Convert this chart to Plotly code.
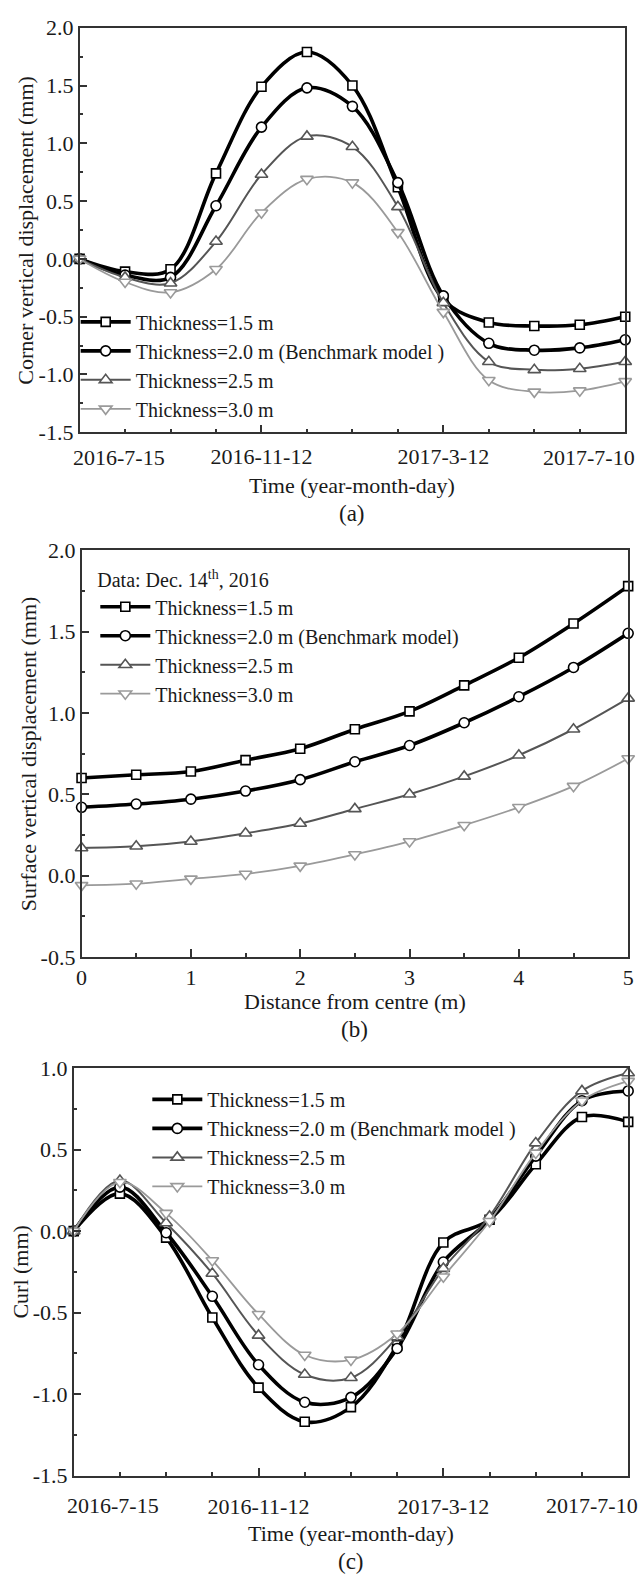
import plotly.graph_objects as go

# ---------------- data ----------------
dates = ["2016-07-15", "2016-08-14", "2016-09-13", "2016-10-13", "2016-11-12",
         "2016-12-12", "2017-01-11", "2017-02-10", "2017-03-12", "2017-04-11",
         "2017-05-11", "2017-06-10", "2017-07-10"]
date_major = ["2016-07-15", "2016-11-12", "2017-03-12", "2017-07-10"]
date_labels = ["2016-7-15", "2016-11-12", "2017-3-12", "2017-7-10"]

# (a) corner vertical displacement (mm)
a_15 = [0.0, -0.11, -0.09, 0.74, 1.49, 1.79, 1.50, 0.62, -0.35, -0.55, -0.58, -0.57, -0.50]
a_20 = [0.0, -0.14, -0.16, 0.46, 1.14, 1.48, 1.32, 0.66, -0.32, -0.73, -0.79, -0.77, -0.70]
a_25 = [0.0, -0.16, -0.21, 0.15, 0.73, 1.06, 0.97, 0.45, -0.38, -0.89, -0.96, -0.95, -0.89]
a_30 = [0.0, -0.20, -0.29, -0.09, 0.40, 0.69, 0.66, 0.23, -0.46, -1.05, -1.15, -1.14, -1.06]

# (b) surface vertical displacement (mm) vs distance from centre (m)
dist = [0, 0.5, 1, 1.5, 2, 2.5, 3, 3.5, 4, 4.5, 5]
b_15 = [0.60, 0.62, 0.64, 0.71, 0.78, 0.90, 1.01, 1.17, 1.34, 1.55, 1.78]
b_20 = [0.42, 0.44, 0.47, 0.52, 0.59, 0.70, 0.80, 0.94, 1.10, 1.28, 1.49]
b_25 = [0.17, 0.18, 0.21, 0.26, 0.32, 0.41, 0.50, 0.61, 0.74, 0.90, 1.09]
b_30 = [-0.06, -0.05, -0.02, 0.01, 0.06, 0.13, 0.21, 0.31, 0.42, 0.55, 0.72]

# (c) curl (mm)
c_15 = [0.0, 0.23, -0.04, -0.53, -0.96, -1.17, -1.08, -0.70, -0.07, 0.07, 0.41, 0.70, 0.67]
c_20 = [0.0, 0.27, -0.01, -0.40, -0.82, -1.05, -1.02, -0.72, -0.19, 0.07, 0.46, 0.80, 0.86]
c_25 = [0.0, 0.31, 0.05, -0.26, -0.64, -0.88, -0.90, -0.65, -0.23, 0.09, 0.54, 0.86, 0.97]
c_30 = [0.0, 0.30, 0.11, -0.18, -0.51, -0.76, -0.79, -0.63, -0.28, 0.06, 0.48, 0.80, 0.92]

# y tick values / labels (hyphen-minus as in the original)
ya_ticks = [-1.5, -1.0, -0.5, 0.0, 0.5, 1.0, 1.5, 2.0]
yb_ticks = [-0.5, 0.0, 0.5, 1.0, 1.5, 2.0]
yc_ticks = [-1.5, -1.0, -0.5, 0.0, 0.5, 1.0]
xb_ticks = [0, 1, 2, 3, 4, 5]

names_ac = ["Thickness=1.5 m", "Thickness=2.0 m (Benchmark model )",
            "Thickness=2.5 m", "Thickness=3.0 m"]
names_b = ["Thickness=1.5 m", "Thickness=2.0 m (Benchmark model)",
           "Thickness=2.5 m", "Thickness=3.0 m"]

# ---------------- styling ----------------
W, H = 643, 1588
FONT = "Liberation Serif"
TXT = "#1a1a1a"
AX = "#333333"
TICKFS = 22
styles = [
    dict(color="#000000", width=3.6, symbol="square", size=9),
    dict(color="#000000", width=3.6, symbol="circle", size=10),
    dict(color="#555555", width=2.0, symbol="triangle-up", size=11),
    dict(color="#9a9a9a", width=1.8, symbol="triangle-down", size=11),
]


def px_x(p):
    return p / W


def px_y(p):
    return 1 - p / H


panels = {
    "a": dict(x0=75, x1=631, y0=16, y1=427),
    "b": dict(x0=77, x1=634, y0=547, y1=960),
    "c": dict(x0=69, x1=634, y0=1073, y1=1487),
}

fig = go.Figure()


def add_series(xs, ys_list, names, xa, ya, legend):
    for ys, nm, st in zip(ys_list, names, styles):
        fig.add_trace(go.Scatter(
            x=xs, y=ys, name=nm, mode="lines+markers",
            xaxis=xa, yaxis=ya, legend=legend, cliponaxis=False,
            line=dict(color=st["color"], width=st["width"], shape="spline", smoothing=1.0),
            marker=dict(symbol=st["symbol"], size=st["size"], color="white",
                        line=dict(color=st["color"], width=1.6)),
        ))


add_series(dates, [a_15, a_20, a_25, a_30], names_ac, "x", "y", "legend")
add_series(dist, [b_15, b_20, b_25, b_30], names_b, "x2", "y2", "legend2")
add_series(dates, [c_15, c_20, c_25, c_30], names_ac, "x3", "y3", "legend3")

axis_common = dict(showgrid=False, zeroline=False, showline=True, mirror=True,
                   linecolor=AX, linewidth=1.5, ticks="inside", ticklen=8,
                   tickwidth=1.5, tickcolor=AX,
                   tickfont=dict(family=FONT, size=TICKFS, color=TXT))
minor_common = dict(ticks="inside", ticklen=4, tickwidth=1.5, tickcolor=AX)


def dom(p):
    d = panels[p]
    return [px_x(d["x0"]), px_x(d["x1"])], [px_y(d["y1"]), px_y(d["y0"])]


def hy(v):
    return f"{v:.1f}"


xa, ya = dom("a")
xb, yb = dom("b")
xc, yc = dom("c")


def date_axis(standoff):
    # the first / last labels are drawn as annotations (shifted inward like the original);
    # the end ticks coincide with the frame, so only the inner labelled ticks are major
    return dict(type="date", range=[dates[0], dates[-1]], tickmode="array",
                tickvals=date_major[1:-1],
                ticktext=date_labels[1:-1],
                ticklabelstandoff=standoff,
                minor=dict(tickmode="array", tickvals=dates, **minor_common))


fig.update_layout(
    width=W, height=H, margin=dict(l=0, r=0, t=0, b=0),
    paper_bgcolor="white", plot_bgcolor="white",
    font=dict(family=FONT, size=21, color=TXT),
    showlegend=True,
    xaxis=dict(domain=xa, anchor="y", **date_axis(4), **axis_common),
    yaxis=dict(domain=ya, anchor="x", range=[-1.5, 2.0], tickmode="array",
               tickvals=ya_ticks, ticktext=[hy(v) for v in ya_ticks],
               minor=dict(dtick=0.25, **minor_common), **axis_common),
    xaxis2=dict(domain=xb, anchor="y2", range=[0, 5], tickmode="array",
                tickvals=xb_ticks, ticktext=[str(v) for v in xb_ticks],
                ticklabelstandoff=0,
                minor=dict(dtick=0.5, **minor_common), **axis_common),
    yaxis2=dict(domain=yb, anchor="x2", range=[-0.5, 2.0], tickmode="array",
                tickvals=yb_ticks, ticktext=[hy(v) for v in yb_ticks],
                minor=dict(dtick=0.25, **minor_common), **axis_common),
    xaxis3=dict(domain=xc, anchor="y3", **date_axis(10), **axis_common),
    yaxis3=dict(domain=yc, anchor="x3", range=[-1.5, 1.0], tickmode="array",
                tickvals=yc_ticks, ticktext=[hy(v) for v in yc_ticks],
                minor=dict(dtick=0.25, **minor_common), **axis_common),
)

LEGFS = 20
leg_common = dict(bgcolor="rgba(0,0,0,0)", borderwidth=0, xanchor="left", yanchor="top",
                  font=dict(family=FONT, size=LEGFS, color=TXT), itemwidth=50,
                  tracegroupgap=0)
fig.update_layout(
    legend=dict(x=px_x(71), y=px_y(295), **leg_common),
    legend2=dict(x=px_x(91), y=px_y(558),
                 title=dict(text="Data: Dec. 14<sup>th</sup>, 2016",
                            font=dict(family=FONT, size=LEGFS, color=TXT)),
                 **leg_common),
    legend3=dict(x=px_x(144), y=px_y(1085), **leg_common),
)

ann = []


def text(x, y, s, size=22, angle=0, xanchor="center", xref="paper", xshift=0):
    ann.append(dict(x=(px_x(x) if xref == "paper" else x), y=px_y(y), xref=xref,
                    yref="paper", text=s, showarrow=False, textangle=angle,
                    xanchor=xanchor, yanchor="middle", xshift=xshift,
                    font=dict(family=FONT, size=size, color=TXT)))


# first and last date tick labels of panels (a) and (c)
for xr, ylab in (("x", 453), ("x3", 1517)):
    text(date_major[0], ylab, date_labels[0], size=TICKFS, xanchor="left",
         xref=xr, xshift=-9)
    text(date_major[-1], ylab, date_labels[-1], size=TICKFS, xanchor="right",
         xref=xr, xshift=12)

# axis titles and panel labels
text((75 + 631) / 2, 481, "Time (year-month-day)")
text((75 + 631) / 2, 510, "(a)", 23)
text(19, (16 + 427) / 2, "Corner vertical displacement (mm)", angle=-90)

text((77 + 634) / 2, 1005, "Distance from centre (m)")
text((77 + 634) / 2, 1034, "(b)", 23)
text(23, (547 + 960) / 2, "Surface vertical displacement (mm)", angle=-90)

text((69 + 634) / 2, 1546, "Time (year-month-day)")
text((69 + 634) / 2, 1574, "(c)", 23)
text(15, (1073 + 1487) / 2, "Curl (mm)", angle=-90)

fig.update_layout(annotations=ann)

fig.write_html("out.html")
